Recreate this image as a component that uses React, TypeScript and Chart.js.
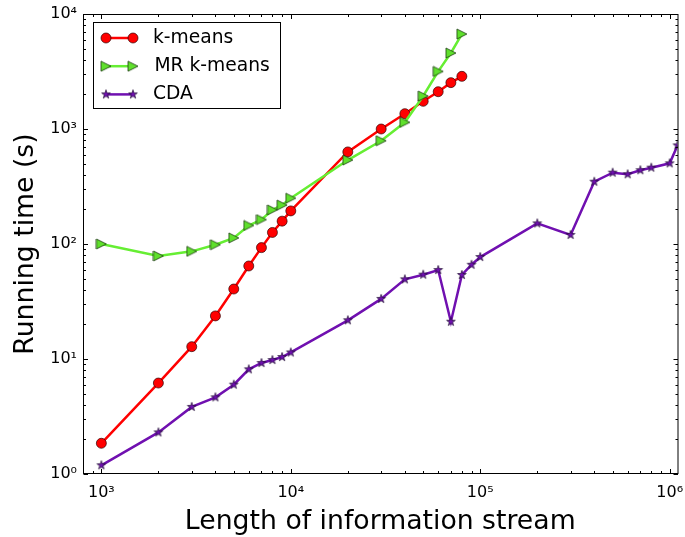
import React, { useEffect, useRef } from 'react';
import { Chart, registerables } from 'chart.js';

Chart.register(...registerables);

// ---------- data ----------
const seriesNames = ['k-means', 'MR k-means', 'CDA'];

const kmeansX = [1000, 2000, 3000, 4000, 5000, 6000, 7000, 8000, 9000, 10000, 20000, 30000, 40000, 50000, 60000, 70000, 80000];
const kmeansY = [1.85, 6.18, 12.8, 23.7, 40.6, 64.4, 93, 126, 158, 194, 632, 1000, 1359, 1741, 2110, 2530, 2870];

const mrX = [1000, 2000, 3000, 4000, 5000, 6000, 7000, 8000, 9000, 10000, 20000, 30000, 40000, 50000, 60000, 70000, 80000];
const mrY = [100, 78.7, 86.3, 98.6, 113, 145, 163, 198, 218, 250, 537, 791, 1143, 1936, 3170, 4580, 6700];

const cdaX = [1000, 2000, 3000, 4000, 5000, 6000, 7000, 8000, 9000, 10000, 20000, 30000, 40000, 50000, 60000, 70000, 80000, 90000, 100000, 200000, 300000, 400000, 500000, 600000, 700000, 800000, 1000000, 1100000];
const cdaY = [1.19, 2.3, 3.83, 4.64, 5.98, 8.13, 9.23, 9.8, 10.4, 11.4, 21.7, 33.3, 49.3, 54.1, 59.4, 21.1, 53.8, 66, 77, 151, 120, 348, 417, 404, 438, 461, 503, 720];

const xMin = 800;
const xMax = 1100000;
const yMin = 1;
const yMax = 10000;
const xTickValues = [1e3, 1e4, 1e5, 1e6];
const yTickValues = [1, 10, 100, 1000, 10000];

const xTitle = 'Length of information stream';
const yTitle = 'Running time (s)';

// ---------- styles ----------
const FONT = '"DejaVu Sans", "Liberation Sans", sans-serif';
const RED = '#ff0000';
const GREEN = '#66ee33';
const PURPLE = '#7010b0';

const SUP: Record<string, string> = { '0': '⁰', '1': '¹', '2': '²', '3': '³', '4': '⁴', '5': '⁵', '6': '⁶', '7': '⁷', '8': '⁸', '9': '⁹', '-': '⁻' };
function expLabel(v: number): string {
  const e = Math.round(Math.log10(v));
  return '10' + String(e).split('').map((c) => SUP[c] || c).join('');
}

function makeTriangle(size: number, fill: string, stroke: string): HTMLCanvasElement {
  const c = document.createElement('canvas');
  const W = size + 2;
  c.width = W; c.height = W;
  const g = c.getContext('2d')!;
  const cx = W / 2, h = size / 2;
  g.beginPath();
  g.moveTo(cx - h, cx - h);
  g.lineTo(cx + h, cx);
  g.lineTo(cx - h, cx + h);
  g.closePath();
  g.fillStyle = fill; g.fill();
  g.lineWidth = 0.8; g.strokeStyle = stroke; g.stroke();
  return c;
}

function makeStar(r: number, fill: string, stroke: string): HTMLCanvasElement {
  const c = document.createElement('canvas');
  const W = Math.ceil(2 * r + 2);
  c.width = W; c.height = W;
  const g = c.getContext('2d')!;
  const cx = W / 2, cy = W / 2;
  const ri = r * 0.382;
  g.beginPath();
  for (let i = 0; i < 10; i++) {
    const ang = -Math.PI / 2 + (i * Math.PI) / 5;
    const rr = i % 2 === 0 ? r : ri;
    const px = cx + rr * Math.cos(ang), py = cy + rr * Math.sin(ang);
    if (i === 0) g.moveTo(px, py); else g.lineTo(px, py);
  }
  g.closePath();
  g.fillStyle = fill; g.fill();
  g.lineWidth = 0.7; g.strokeStyle = stroke; g.stroke();
  return c;
}

const mplFrame = {
  id: 'mplFrame',
  afterDraw(chart: any) {
    const { ctx, chartArea: a, scales } = chart;
    const xs = scales.x, ys = scales.y;
    ctx.save();
    ctx.strokeStyle = '#000';
    ctx.lineWidth = 1;
    const major = 4.5, minor = 2.5;
    const line = (x1: number, y1: number, x2: number, y2: number) => {
      ctx.beginPath(); ctx.moveTo(x1, y1); ctx.lineTo(x2, y2); ctx.stroke();
    };
    const L = a.left + 0.5, R = a.right + 0.5, T = a.top + 0.5, B = a.bottom - 0.5;
    for (let e = Math.floor(Math.log10(xs.min)); e <= Math.ceil(Math.log10(xs.max)); e++) {
      for (let m = 1; m <= 9; m++) {
        const v = m * Math.pow(10, e);
        if (v < xs.min || v > xs.max) continue;
        const px = Math.round(xs.getPixelForValue(v)) + 0.5;
        const len = m === 1 ? major : minor;
        line(px, B, px, B - len);
        line(px, T, px, T + len);
      }
    }
    for (let e = Math.floor(Math.log10(ys.min)); e <= Math.ceil(Math.log10(ys.max)); e++) {
      for (let m = 1; m <= 9; m++) {
        const v = m * Math.pow(10, e);
        if (v < ys.min || v > ys.max) continue;
        const py = Math.round(ys.getPixelForValue(v)) + 0.5;
        const len = m === 1 ? major : minor;
        line(L, py, L + len, py);
        line(R, py, R - len, py);
      }
    }
    ctx.strokeRect(L, T, R - L, B - T);

    // legend (matplotlib style: line with a marker at each end)
    const bx = 93.5, by = 22.5, bw = 187, bh = 86;
    ctx.fillStyle = '#fff';
    ctx.fillRect(bx, by, bw, bh);
    ctx.strokeStyle = '#000';
    ctx.lineWidth = 1;
    ctx.strokeRect(bx, by, bw, bh);
    ctx.font = '18.7px ' + FONT;
    ctx.textBaseline = 'middle';
    ctx.textAlign = 'left';
    chart.data.datasets.forEach((ds: any, i: number) => {
      const y = 38 + i * 28.2;
      const x1 = 106, x2 = 133;
      ctx.strokeStyle = ds.borderColor;
      ctx.lineWidth = ds.borderWidth;
      line(x1, y, x2, y);
      [x1, x2].forEach((mx) => {
        if (ds.pointStyle === 'circle') {
          ctx.beginPath();
          ctx.arc(mx, y, ds.pointRadius, 0, Math.PI * 2);
          ctx.fillStyle = ds.pointBackgroundColor;
          ctx.fill();
          ctx.lineWidth = ds.pointBorderWidth;
          ctx.strokeStyle = ds.pointBorderColor;
          ctx.stroke();
        } else {
          const img = ds.pointStyle as HTMLCanvasElement;
          ctx.drawImage(img, mx - img.width / 2, y - img.height / 2);
        }
      });
      ctx.fillStyle = '#000';
      ctx.fillText(ds.label, i === 1 ? 154.5 : 153, y);
    });
    ctx.restore();
  },
};

export default function App() {
  const ref = useRef<HTMLCanvasElement | null>(null);

  useEffect(() => {
    if (!ref.current) return;
    const tri = makeTriangle(10, '#5fe02c', '#1a3a10');
    const star = makeStar(4.6, PURPLE, '#201030');

    const toPts = (xs: number[], ys: number[]) => xs.map((x, i) => ({ x, y: ys[i] }));

    const chart = new Chart(ref.current, {
      type: 'line',
      data: {
        datasets: [
          {
            label: seriesNames[0],
            data: toPts(kmeansX, kmeansY),
            borderColor: RED,
            borderWidth: 2.5,
            pointStyle: 'circle',
            pointRadius: 5,
            pointBackgroundColor: RED,
            pointBorderColor: 'rgba(40,0,0,0.85)',
            pointBorderWidth: 0.8,
            fill: false,
            tension: 0,
            order: 3,
          },
          {
            label: seriesNames[1],
            data: toPts(mrX, mrY),
            borderColor: GREEN,
            borderWidth: 2.5,
            pointStyle: tri as any,
            pointRadius: 5,
            fill: false,
            tension: 0,
            order: 2,
          },
          {
            label: seriesNames[2],
            data: toPts(cdaX, cdaY),
            borderColor: PURPLE,
            borderWidth: 2.5,
            pointStyle: star as any,
            pointRadius: 5,
            fill: false,
            tension: 0,
            order: 1,
          },
        ] as any,
      },
      options: {
        responsive: false,
        animation: false,
        events: [],
        layout: { padding: { left: 0, top: 14, right: 6, bottom: 0 } },
        plugins: { legend: { display: false }, tooltip: { enabled: false } },
        scales: {
          x: {
            type: 'logarithmic',
            min: xMin,
            max: xMax,
            grid: { display: false, drawTicks: false },
            border: { display: false },
            ticks: {
              autoSkip: false,
              maxRotation: 0,
              padding: 9,
              color: '#000',
              font: { family: FONT, size: 16 },
              callback: (v: any) => expLabel(Number(v)),
            },
            afterBuildTicks: (s: any) => { s.ticks = xTickValues.map((v) => ({ value: v })); },
            afterFit: (s: any) => { s.height = 63; s.paddingLeft = 0; s.paddingRight = 0; },
            title: {
              display: true,
              text: xTitle,
              color: '#000',
              font: { family: FONT, size: 26.7, lineHeight: 1 },
              padding: { top: 0, bottom: 1.5 },
            },
          },
          y: {
            type: 'logarithmic',
            min: yMin,
            max: yMax,
            grid: { display: false, drawTicks: false },
            border: { display: false },
            ticks: {
              autoSkip: false,
              padding: 6,
              color: '#000',
              font: { family: FONT, size: 16 },
              callback: (v: any) => expLabel(Number(v)),
            },
            afterBuildTicks: (s: any) => { s.ticks = yTickValues.map((v) => ({ value: v })); },
            afterFit: (s: any) => { s.width = 83; s.paddingTop = 0; s.paddingBottom = 0; },
            title: {
              display: true,
              text: yTitle,
              color: '#000',
              font: { family: FONT, size: 26.7 },
              padding: { top: 10, bottom: 0 },
            },
          },
        },
      } as any,
      plugins: [mplFrame],
    });
    return () => chart.destroy();
  }, []);

  return (
    <div style={{ position: 'absolute', left: 0, top: 0, width: 685, height: 537, background: '#fff' }}>
      <canvas ref={ref} width={685} height={537} style={{ display: 'block' }} />
    </div>
  );
}
